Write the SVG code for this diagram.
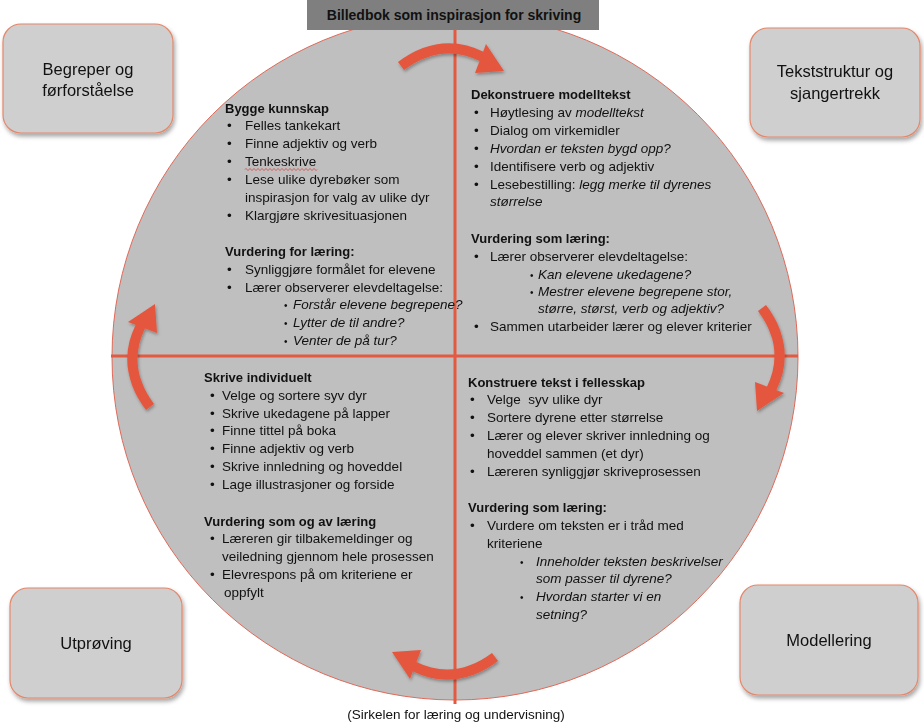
<svg xmlns="http://www.w3.org/2000/svg" width="924" height="722" viewBox="0 0 924 722">
<defs>
<style>
text{font-family:"Liberation Sans",Arial,sans-serif;fill:#111;}
.t{font-size:13.5px;}
.h{font-size:13px;font-weight:bold;}
.i{font-style:italic;}
.b{font-size:13.5px;}
.sb{font-size:10px;}
.box{fill:#d0cfcf;stroke:#e4876a;stroke-width:1.2;}
.bl{font-size:16.5px;text-anchor:middle;}
.ax{stroke:#e35a40;stroke-width:3;fill:none;}
.shaft{stroke:#e4573d;stroke-width:10;fill:none;}
.head{fill:#e4573d;}
</style>
<filter id="sh" x="-20%" y="-20%" width="140%" height="140%">
<feDropShadow dx="1.5" dy="3" stdDeviation="2" flood-color="#000" flood-opacity="0.35"/>
</filter>
<filter id="ash" x="-30%" y="-30%" width="160%" height="160%">
<feDropShadow dx="1" dy="2" stdDeviation="1.5" flood-color="#000" flood-opacity="0.3"/>
</filter>
<g id="arrow">
<path class="shaft" d="M-52,6 Q-12,-24 30,-3"/>
<polygon class="head" points="33,-16 51,11 22,13"/>
</g>
</defs>
<rect width="924" height="722" fill="#fff"/>

<g id="circle">
<circle cx="455" cy="357" r="343" fill="#bfbfbf" stroke="#e06a5a" stroke-width="1"/>
</g>

<g id="connectors">
<line class="ax" x1="455" y1="28" x2="455" y2="704"/>
<line class="ax" x1="111" y1="356" x2="798" y2="356"/>
<g filter="url(#ash)">
<use href="#arrow" transform="translate(453,60)"/>
<use href="#arrow" transform="translate(768,360) rotate(90)"/>
<use href="#arrow" transform="translate(443,663) rotate(180)"/>
<use href="#arrow" transform="translate(144,355) rotate(-90)"/>
</g>
</g>

<g id="title">
<rect x="307" y="0" width="292" height="30" fill="#7f7f7f"/>
<text x="454" y="20" text-anchor="middle" style="font-size:14px;font-weight:bold">Billedbok som inspirasjon for skriving</text>
</g>

<g id="box-begreper">
<rect class="box" x="3" y="24" width="170" height="109" rx="18" filter="url(#sh)"/>
<text class="bl" x="88" y="75">Begreper og</text>
<text class="bl" x="88" y="96">førforståelse</text>
</g>
<g id="box-tekststruktur">
<rect class="box" x="750" y="28" width="170" height="109" rx="18" filter="url(#sh)"/>
<text class="bl" x="835" y="77">Tekststruktur og</text>
<text class="bl" x="835" y="99">sjangertrekk</text>
</g>
<g id="box-utproving">
<rect class="box" x="10" y="588" width="172" height="110" rx="18" filter="url(#sh)"/>
<text class="bl" x="96" y="649">Utprøving</text>
</g>
<g id="box-modellering">
<rect class="box" x="740" y="585" width="178" height="110" rx="18" filter="url(#sh)"/>
<text class="bl" x="829" y="646">Modellering</text>
</g>

<g id="q-bygge">
<text class="h" x="225" y="113">Bygge kunnskap</text>
<text class="b" x="227" y="130">•</text><text class="t" x="245" y="130">Felles tankekart</text>
<text class="b" x="227" y="148">•</text><text class="t" x="245" y="148">Finne adjektiv og verb</text>
<text class="b" x="227" y="166">•</text><text class="t" x="245" y="166">Tenkeskrive</text>
<path d="M245,169.5 q1,-2 2,0 t2,0 t2,0 t2,0 t2,0 t2,0 t2,0 t2,0 t2,0 t2,0 t2,0 t2,0 t2,0 t2,0 t2,0 t2,0 t2,0 t2,0 t2,0 t2,0 t2,0 t2,0 t2,0 t2,0 t2,0 t2,0 t2,0 t2,0 t2,0 t2,0 t2,0 t2,0 t2,0 t2,0 t2,0 t2,0" fill="none" stroke="#d83a3a" stroke-width="0.8"/>
<text class="b" x="227" y="184">•</text><text class="t" x="245" y="184">Lese ulike dyrebøker som</text>
<text class="t" x="245" y="202">inspirasjon for valg av ulike dyr</text>
<text class="b" x="227" y="220">•</text><text class="t" x="245" y="220">Klargjøre skrivesituasjonen</text>
<text class="h" x="225" y="256">Vurdering for læring:</text>
<text class="b" x="227" y="274">•</text><text class="t" x="245" y="274">Synliggjøre formålet for elevene</text>
<text class="b" x="227" y="292">•</text><text class="t" x="245" y="292">Lærer observerer elevdeltagelse:</text>
<text class="sb" x="284" y="309">•</text><text class="t i" x="293" y="309">Forstår elevene begrepene?</text>
<text class="sb" x="284" y="327">•</text><text class="t i" x="293" y="327">Lytter de til andre?</text>
<text class="sb" x="284" y="345">•</text><text class="t i" x="293" y="345">Venter de på tur?</text>
</g>

<g id="q-dekonstruere">
<text class="h" x="471" y="99">Dekonstruere modelltekst</text>
<text class="b" x="474" y="117">•</text><text class="t" x="490" y="117">Høytlesing av <tspan class="i">modelltekst</tspan></text>
<text class="b" x="474" y="135">•</text><text class="t" x="490" y="135">Dialog om virkemidler</text>
<text class="b" x="474" y="153">•</text><text class="t i" x="490" y="153">Hvordan er teksten bygd opp?</text>
<text class="b" x="474" y="171">•</text><text class="t" x="490" y="171">Identifisere verb og adjektiv</text>
<text class="b" x="474" y="189">•</text><text class="t" x="490" y="189">Lesebestilling: <tspan class="i">legg merke til dyrenes</tspan></text>
<text class="t i" x="490" y="206">størrelse</text>
<text class="h" x="471" y="243">Vurdering som læring:</text>
<text class="b" x="474" y="261">•</text><text class="t" x="490" y="261">Lærer observerer elevdeltagelse:</text>
<text class="sb" x="530" y="279">•</text><text class="t i" x="538" y="279">Kan elevene ukedagene?</text>
<text class="sb" x="530" y="296">•</text><text class="t i" x="538" y="296">Mestrer elevene begrepene stor,</text>
<text class="t i" x="538" y="313">større, størst, verb og adjektiv?</text>
<text class="b" x="474" y="331">•</text><text class="t" x="490" y="331">Sammen utarbeider lærer og elever kriterier</text>
</g>

<g id="q-skrive">
<text class="h" x="204" y="382">Skrive individuelt</text>
<text class="b" x="210" y="400">•</text><text class="t" x="222" y="400">Velge og sortere syv dyr</text>
<text class="b" x="210" y="418">•</text><text class="t" x="222" y="418">Skrive ukedagene på lapper</text>
<text class="b" x="210" y="435">•</text><text class="t" x="222" y="435">Finne tittel på boka</text>
<text class="b" x="210" y="453">•</text><text class="t" x="222" y="453">Finne adjektiv og verb</text>
<text class="b" x="210" y="471">•</text><text class="t" x="222" y="471">Skrive innledning og hoveddel</text>
<text class="b" x="210" y="489">•</text><text class="t" x="222" y="489">Lage illustrasjoner og forside</text>
<text class="h" x="204" y="526">Vurdering som og av læring</text>
<text class="b" x="210" y="543">•</text><text class="t" x="222" y="543">Læreren gir tilbakemeldinger og</text>
<text class="t" x="222" y="561">veiledning gjennom hele prosessen</text>
<text class="b" x="210" y="579">•</text><text class="t" x="222" y="579">Elevrespons på om kriteriene er</text>
<text class="t" x="224" y="597">oppfylt</text>
</g>

<g id="q-konstruere">
<text class="h" x="468" y="387">Konstruere tekst i fellesskap</text>
<text class="b" x="470" y="404">•</text><text class="t" x="487" y="404" xml:space="preserve">Velge  syv ulike dyr</text>
<text class="b" x="470" y="422">•</text><text class="t" x="487" y="422">Sortere dyrene etter størrelse</text>
<text class="b" x="470" y="440">•</text><text class="t" x="487" y="440">Lærer og elever skriver innledning og</text>
<text class="t" x="487" y="458">hoveddel sammen (et dyr)</text>
<text class="b" x="470" y="476">•</text><text class="t" x="487" y="476">Læreren synliggjør skriveprosessen</text>
<text class="h" x="468" y="512">Vurdering som læring:</text>
<text class="b" x="470" y="530">•</text><text class="t" x="487" y="530">Vurdere om teksten er i tråd med</text>
<text class="t" x="487" y="548">kriteriene</text>
<text class="sb" x="520" y="566">•</text><text class="t i" x="536" y="566">Inneholder teksten beskrivelser</text>
<text class="t i" x="536" y="583">som passer til dyrene?</text>
<text class="sb" x="520" y="601">•</text><text class="t i" x="536" y="601">Hvordan starter vi en</text>
<text class="t i" x="536" y="619">setning?</text>
</g>

<g id="caption">
<text class="t" x="456" y="719" text-anchor="middle">(Sirkelen for læring og undervisning)</text>
</g>
</svg>
